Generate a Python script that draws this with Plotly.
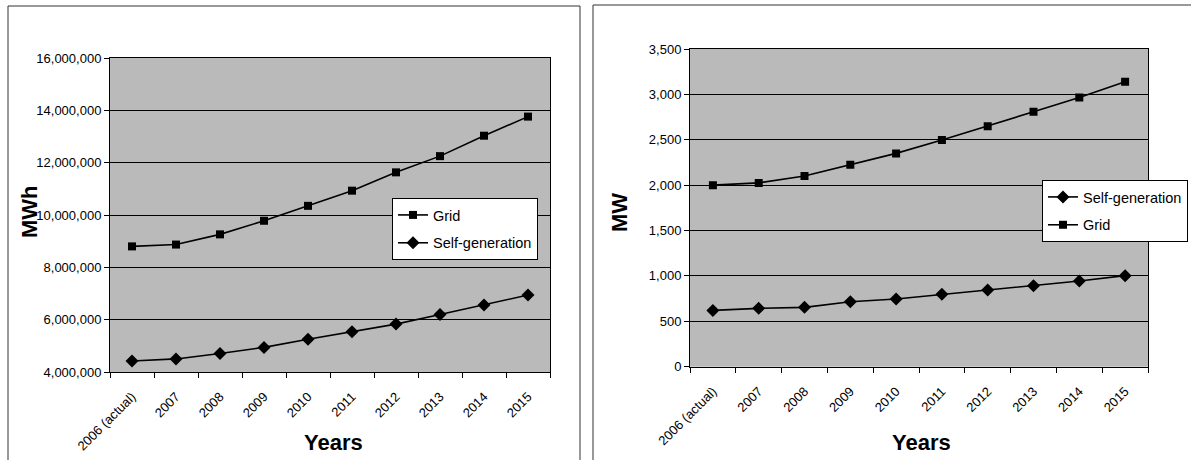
import plotly.graph_objects as go

years = ["2006 (actual)", "2007", "2008", "2009", "2010", "2011", "2012", "2013", "2014", "2015"]

# Left chart: energy (MWh)
grid_mwh = [8800000, 8870000, 9260000, 9780000, 10350000, 10930000, 11630000, 12250000, 13030000, 13760000]
self_mwh = [4420000, 4500000, 4710000, 4940000, 5250000, 5540000, 5830000, 6200000, 6560000, 6940000]

# Right chart: capacity (MW)
grid_mw = [2000, 2025, 2100, 2225, 2350, 2497, 2650, 2808, 2965, 3140]
self_mw = [620, 643, 654, 716, 746, 797, 845, 892, 944, 1003]

W, H = 1191, 460
FONT = "Arial, Liberation Sans, sans-serif"
BG = "#bababa"


def px_x(v):
    return v / W


def px_y(v):
    return 1 - v / H


fig = go.Figure()

line_style = dict(color="black", width=1.6)

fig.add_trace(go.Scatter(x=years, y=grid_mwh, name="Grid", mode="lines+markers",
                         line=line_style, marker=dict(symbol="square", size=8, color="black"),
                         xaxis="x", yaxis="y", legend="legend", legendgroup="g1"))
fig.add_trace(go.Scatter(x=years, y=self_mwh, name="Self-generation", mode="lines+markers",
                         line=line_style, marker=dict(symbol="diamond", size=10, color="black"),
                         xaxis="x", yaxis="y", legend="legend", legendgroup="s1"))

fig.add_trace(go.Scatter(x=years, y=self_mw, name="Self-generation", mode="lines+markers",
                         line=line_style, marker=dict(symbol="diamond", size=10, color="black"),
                         xaxis="x2", yaxis="y2", legend="legend2", legendgroup="s2"))
fig.add_trace(go.Scatter(x=years, y=grid_mw, name="Grid", mode="lines+markers",
                         line=line_style, marker=dict(symbol="square", size=8, color="black"),
                         xaxis="x2", yaxis="y2", legend="legend2", legendgroup="g2"))

xcommon = dict(type="category", tickson="boundaries", ticks="outside", ticklen=5,
               tickcolor="black", tickangle=-45, showgrid=False, showline=True,
               linecolor="black", linewidth=1, mirror=True, automargin=False,
               ticklabelstandoff=11,
               tickfont=dict(family=FONT, size=13, color="black"), fixedrange=True)
ycommon = dict(ticks="outside", ticklen=5, tickcolor="black", showgrid=True,
               gridcolor="black", gridwidth=1, showline=True, linecolor="black",
               linewidth=1, mirror=True, zeroline=False, tickformat=",d",
               automargin=False,
               tickfont=dict(family=FONT, size=13, color="black"), fixedrange=True)

frame = dict(color="#333333", width=1)
legend_common = dict(xanchor="left", yanchor="top", bgcolor="white",
                     bordercolor="black", borderwidth=1,
                     font=dict(family=FONT, size=14.5, color="black"),
                     itemwidth=30, tracegroupgap=6)
fig.update_layout(
    width=W, height=H,
    margin=dict(l=0, r=0, t=0, b=0, autoexpand=False),
    paper_bgcolor="white",
    plot_bgcolor=BG,
    font=dict(family=FONT, color="black"),
    xaxis=dict(xcommon, domain=[px_x(110), px_x(550)], anchor="y", range=[-0.5, 9.5]),
    yaxis=dict(ycommon, domain=[px_y(372), px_y(58)], anchor="x",
               range=[4000000, 16000000], dtick=2000000),
    xaxis2=dict(xcommon, domain=[px_x(690), px_x(1148)], anchor="y2", range=[-0.5, 9.5]),
    yaxis2=dict(ycommon, domain=[px_y(366.7), px_y(49)], anchor="x2",
                range=[0, 3500], dtick=500),
    legend=dict(legend_common, x=px_x(392), y=px_y(198)),
    legend2=dict(legend_common, x=px_x(1042), y=px_y(180)),
    showlegend=True,
    annotations=[
        dict(text="<b>MWh</b>", x=px_x(29), y=px_y(212), xref="paper", yref="paper",
             xanchor="center", yanchor="middle",
             showarrow=False, textangle=-90, font=dict(family=FONT, size=22, color="black")),
        dict(text="<b>MW</b>", x=px_x(619), y=px_y(213), xref="paper", yref="paper",
             xanchor="center", yanchor="middle",
             showarrow=False, textangle=-90, font=dict(family=FONT, size=22, color="black")),
        dict(text="<b>Years</b>", x=px_x(333), y=px_y(442), xref="paper", yref="paper",
             xanchor="center", yanchor="middle",
             showarrow=False, font=dict(family=FONT, size=22, color="black")),
        dict(text="<b>Years</b>", x=px_x(921), y=px_y(442), xref="paper", yref="paper",
             xanchor="center", yanchor="middle",
             showarrow=False, font=dict(family=FONT, size=22, color="black")),
    ],
    shapes=[
        dict(type="line", xref="paper", yref="paper", x0=px_x(8), x1=px_x(8),
             y0=0, y1=px_y(6), line=frame),
        dict(type="line", xref="paper", yref="paper", x0=px_x(8), x1=px_x(580),
             y0=px_y(6), y1=px_y(6), line=frame),
        dict(type="line", xref="paper", yref="paper", x0=px_x(580), x1=px_x(580),
             y0=0, y1=px_y(6), line=frame),
        dict(type="line", xref="paper", yref="paper", x0=px_x(593), x1=px_x(593),
             y0=0, y1=px_y(5), line=frame),
        dict(type="line", xref="paper", yref="paper", x0=px_x(593), x1=1,
             y0=px_y(5), y1=px_y(5), line=frame),
    ],
)

fig.write_html("out.html")
